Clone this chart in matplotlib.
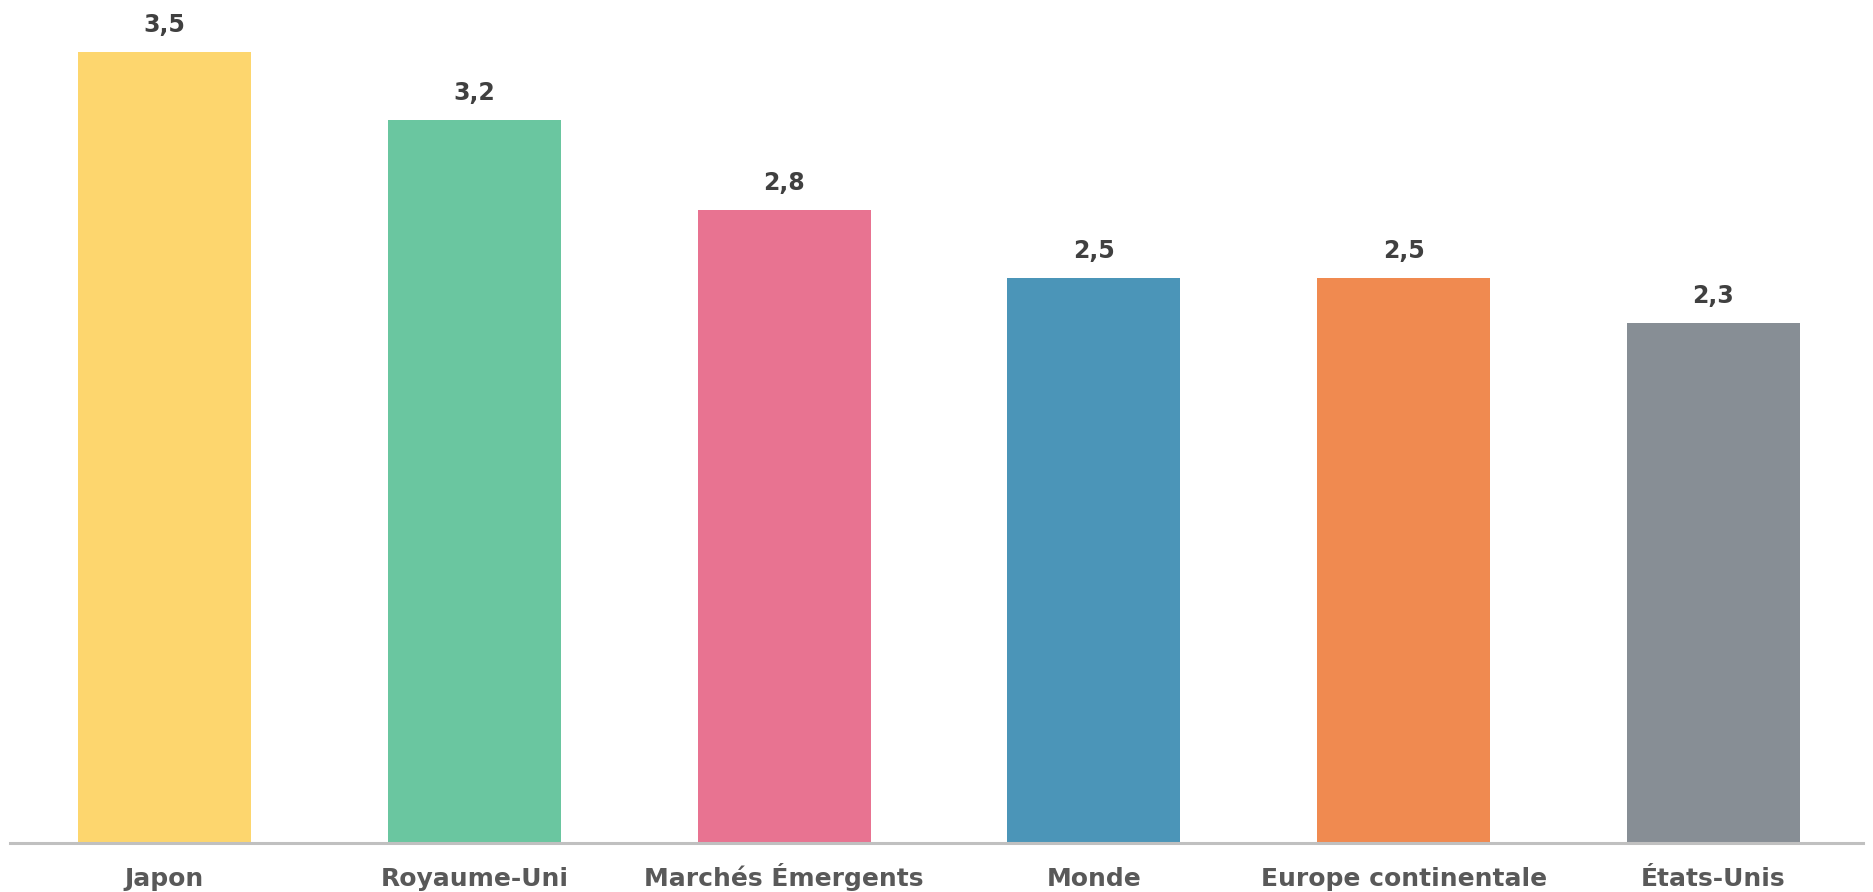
import numpy as np
import matplotlib.pyplot as plt

categories = ['Japon', 'Royaume-Uni', 'Marchés Émergents', 'Monde',
              'Europe continentale', 'États-Unis']
values = [3.5, 3.2, 2.8, 2.5, 2.5, 2.3]
value_labels = ['3,5', '3,2', '2,8', '2,5', '2,5', '2,3']
colors = ['#FDD66E', '#6AC6A0', '#E87391', '#4B95B8', '#F08A50', '#878E95']

W, H, DPI = 1873, 892, 100
fig = plt.figure(figsize=(W / DPI, H / DPI), dpi=DPI)
plt.rcParams['font.family'] = ['DejaVu Sans']

# axes placed in pixel terms: baseline at y=843, axis line from x=10 to x=1863
base = 843
ax = fig.add_axes([10 / W, (H - base) / H, 1853 / W, base / H])

x = np.arange(len(categories))
step = 309.8
ax.bar(x, values, width=173 / step, color=colors, zorder=2)

ax.set_xlim((10 - 164.5) / step, 5 + (1863 - 1713.5) / step)
ax.set_ylim(0, base / 226.0)

for xi, v, lab in zip(x, values, value_labels):
    ax.annotate(lab, (xi, v), xytext=(0, 14.4), textcoords='offset points',
                ha='center', va='baseline', fontsize=17, fontweight='bold',
                color='#404040')

ax.set_xticks(x)
ax.set_xticklabels(categories, fontsize=18, fontweight='bold', color='#595959')
for t in ax.get_xticklabels():
    t.set_va('baseline')
ax.tick_params(axis='x', length=0, pad=31)
ax.set_yticks([])
for s in ['top', 'left', 'right']:
    ax.spines[s].set_visible(False)
ax.spines['bottom'].set_color('#c0c0c0')
ax.spines['bottom'].set_linewidth(2.2)
ax.spines['bottom'].set_zorder(3)
ax.patch.set_alpha(0)

fig.savefig('out.png', dpi=DPI)
